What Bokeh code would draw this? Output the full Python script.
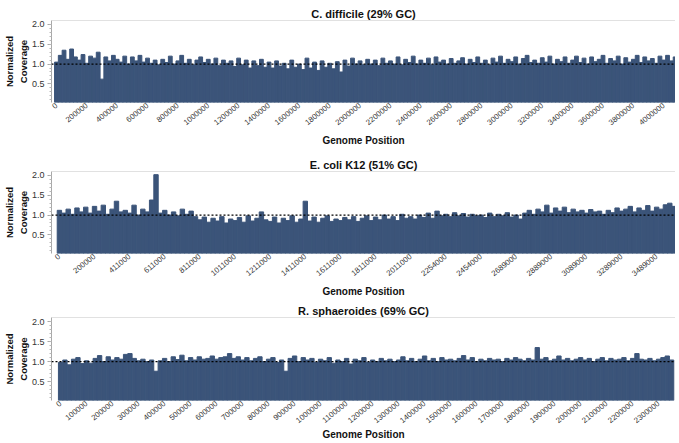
from bokeh.plotting import figure
from bokeh.models import FixedTicker, Span, ColumnDataSource, PrintfTickFormatter
from bokeh.layouts import column
from bokeh.embed import file_html
from bokeh.resources import INLINE

titles = ["C. difficile (29% GC)", "E. coli K12 (51% GC)", "R. sphaeroides (69% GC)"]

cdiff_labels = ["0", "200000", "400000", "600000", "800000", "1000000", "1200000",
                "1400000", "1600000", "1800000", "2000000", "2200000", "2400000",
                "2600000", "2800000", "3000000", "3200000", "3400000", "3600000",
                "3800000", "4000000"]
ecoli_labels = ["0", "200000", "411000", "611000", "811000", "1011000", "1211000",
                "1411000", "1611000", "1811000", "2011000", "2254000", "2454000",
                "2689000", "2889000", "3089000", "3289000", "3489000"]
rsph_labels = ["0", "100000", "200000", "300000", "400000", "500000", "600000",
               "700000", "800000", "900000", "1000000", "1100000", "1200000",
               "1300000", "1400000", "1500000", "1600000", "1700000", "1800000",
               "1900000", "2000000", "2100000", "2200000", "2300000"]

cdiff_cov = [
    1.05, 1.22, 1.35, 1.12, 1.38, 1.18, 1.10, 1.24,
    1.02, 1.20, 1.15, 1.30, 0.62, 1.18, 1.08, 1.22,
    1.12, 1.05, 1.20, 1.00, 1.18, 1.08, 1.22, 1.05,
    1.15, 1.02, 1.10, 0.98, 1.12, 1.04, 1.20, 1.00,
    1.08, 1.22, 1.02, 1.12, 0.98, 1.10, 1.18, 1.04,
    1.12, 1.00, 1.15, 0.96, 1.10, 1.02, 1.08, 0.94,
    1.15, 0.98, 1.10, 0.90, 1.08, 0.96, 1.12, 0.92,
    1.05, 0.90, 1.08, 0.95, 1.02, 0.88, 1.10, 0.92,
    1.00, 0.86, 1.15, 0.90, 1.05, 0.84, 1.08, 0.92,
    1.02, 0.88, 1.06, 0.80, 1.10, 0.95, 1.15, 1.00,
    1.08, 0.98, 1.12, 1.00, 1.10, 0.96, 1.15, 1.02,
    1.08, 1.00, 1.18, 0.98, 1.12, 1.04, 1.20, 1.00,
    1.10, 1.02, 1.15, 0.98, 1.18, 1.05, 1.10, 1.00,
    1.14, 1.02, 1.08, 1.16, 1.00, 1.12, 1.04, 1.18,
    1.02, 1.10, 0.98, 1.15, 1.05, 1.20, 1.02, 1.12,
    1.06, 1.18, 1.00, 1.14, 1.22, 1.04, 1.10, 1.02,
    1.16, 1.05, 1.20, 1.00, 1.12, 1.06, 1.18, 1.02,
    1.10, 1.20, 1.04, 1.15, 1.00, 1.18, 1.06, 1.12,
    1.22, 1.02, 1.14, 1.08, 1.20, 1.00, 1.16, 1.05,
    1.12, 1.22, 1.04, 1.18, 1.08, 1.14, 1.02, 1.20,
    1.10, 1.22, 1.08, 1.18,
]

ecoli_cov = [
    1.12, 1.05, 1.15, 1.02, 1.18, 1.08, 1.20, 1.05,
    1.22, 1.10, 1.25, 1.02, 1.15, 1.35, 1.08, 1.12,
    1.05, 1.25, 1.00, 1.15, 1.08, 1.38, 2.02, 1.05,
    1.12, 1.00, 1.08, 0.98, 1.15, 1.02, 1.10, 0.96,
    0.88, 0.95, 0.82, 0.92, 0.85, 0.96, 0.80, 0.90,
    0.86, 0.94, 0.82, 0.98, 0.85, 0.92, 1.08, 0.88,
    0.84, 0.95, 0.80, 0.92, 0.86, 0.98, 0.82, 0.90,
    1.35, 0.85, 0.95, 0.82, 0.92, 0.98, 0.84, 0.90,
    0.86, 0.94, 0.88, 0.96, 0.84, 0.92, 0.98, 0.86,
    0.95, 0.88, 1.00, 0.90, 0.96, 0.86, 1.02, 0.92,
    0.96, 0.90, 1.00, 0.94, 1.05, 0.92, 1.10, 0.98,
    1.02, 0.96, 1.06, 0.98, 1.04, 0.95, 1.02, 0.98,
    1.00, 0.94, 1.05, 0.96, 1.02, 0.98, 1.06, 0.95,
    1.00, 0.90, 1.05, 1.12, 1.02, 1.15, 1.08, 1.25,
    1.05, 1.18, 1.10, 1.20, 1.06, 1.15, 1.08, 1.12,
    1.05, 1.14, 1.08, 1.10, 1.02, 1.12, 1.06, 1.18,
    1.10, 1.15, 1.22, 1.08, 1.18, 1.12, 1.24, 1.10,
    1.20, 1.15, 1.26, 1.30, 1.22,
]

rsph_cov = [
    0.98, 1.04, 0.92, 1.06, 1.10, 0.95,
    1.02, 0.96, 1.08, 1.15, 1.00, 1.12,
    1.04, 1.10, 1.06, 1.18, 1.20, 1.08,
    1.02, 1.06, 1.00, 1.04, 0.76, 1.02,
    1.08, 1.00, 1.12, 1.05, 1.16, 1.02,
    1.10, 1.04, 1.12, 1.06, 1.08, 1.14,
    1.06, 1.10, 1.12, 1.20, 1.08, 1.12,
    1.04, 1.10, 1.02, 1.08, 1.12, 1.00,
    1.06, 1.10, 0.98, 1.04, 0.76, 1.08,
    1.14, 1.00, 1.10, 1.04, 1.08, 0.98,
    1.06, 1.02, 1.10, 0.96, 1.04, 1.00,
    1.08, 0.94, 1.06, 1.02, 1.10, 0.98,
    1.04, 1.00, 1.08, 1.02, 1.06, 1.00,
    1.04, 1.12, 1.02, 1.08, 1.00, 1.06,
    1.14, 1.02, 1.08, 1.00, 1.10, 1.04,
    1.06, 1.02, 1.08, 1.15, 1.04, 1.10,
    1.00, 1.06, 1.02, 1.08, 1.04, 1.06,
    1.00, 1.08, 1.04, 1.10, 1.06, 1.02,
    1.08, 1.04, 1.35, 1.06, 1.10, 1.02,
    1.06, 1.14, 1.04, 1.08, 1.02, 1.06,
    1.10, 1.04, 1.08, 1.00, 1.06, 1.10,
    1.02, 1.08, 1.04, 1.06, 1.10, 1.02,
    1.08, 1.20, 1.06, 1.04, 1.08, 1.02,
    1.06, 1.10, 1.14, 1.04,
]

BAR = "#3b5479"
FONT = "Liberation Sans"

def make_panel(title, cov, labels, bins_per_tick, x_start, x_end,
               height, top_border, bottom_border, gp_standoff):
    src = ColumnDataSource(dict(x=list(range(len(cov))), cov=cov))
    p = figure(width=675, height=height, output_backend="svg", toolbar_location=None,
               x_range=(x_start, x_end), y_range=(0.03, 2.1),
               min_border_left=49, min_border_right=0,
               min_border_top=top_border, min_border_bottom=bottom_border)
    p.vbar(x="x", top="cov", bottom=0, width=1.0, source=src,
           fill_color=BAR, line_color=BAR, line_width=1.0)
    p.add_layout(Span(location=1.0, dimension="width", line_color="black",
                      line_dash="2 2", line_width=1.3))
    p.add_layout(Span(location=2.1, dimension="width", line_color="#c4c4c4",
                      line_width=1.2))
    p.outline_line_color = None
    p.grid.visible = False
    p.background_fill_color = "white"
    p.border_fill_color = "white"

    p.title.text = title
    p.title.align = "center"
    p.title.text_font = FONT
    p.title.text_font_size = "11px"
    p.title.text_font_style = "bold"
    p.title.text_color = "#111111"
    p.title.offset = 0
    p.title.standoff = 2

    ticks = [i * bins_per_tick for i in range(len(labels))]
    xa = p.xaxis[0]
    xa.ticker = FixedTicker(ticks=ticks)
    xa.major_label_overrides = {t: l for t, l in zip(ticks, labels)}
    xa.major_label_orientation = 0.68
    xa.major_label_text_font = FONT
    xa.major_label_text_font_size = "7.8px"
    xa.major_label_text_line_height = 1.0
    xa.major_label_text_color = "#333333"
    xa.major_label_standoff = 2
    xa.axis_line_color = None
    xa.major_tick_line_color = None
    xa.minor_tick_line_color = None
    xa.major_tick_out = 0
    xa.major_tick_in = 0
    xa.minor_tick_out = 0
    xa.minor_tick_in = 0
    xa.axis_label = "Genome Position"
    xa.axis_label_text_font = FONT
    xa.axis_label_text_font_size = "10px"
    xa.axis_label_text_line_height = 1.0
    xa.axis_label_text_font_style = "bold"
    xa.axis_label_text_color = "#111111"
    xa.axis_label_standoff = gp_standoff

    ya = p.yaxis[0]
    ya.ticker = FixedTicker(ticks=[0.5, 1.0, 1.5, 2.0],
                            minor_ticks=[round(0.1 * k, 1) for k in range(1, 21)])
    ya.formatter = PrintfTickFormatter(format="%.1f")
    ya.major_label_text_font = FONT
    ya.major_label_text_font_size = "9px"
    ya.major_label_text_color = "#333333"
    ya.axis_line_color = "#a8a8a8"
    ya.major_tick_line_color = "#a8a8a8"
    ya.minor_tick_line_color = "#b8b8b8"
    ya.major_tick_out = 4
    ya.major_tick_in = 0
    ya.minor_tick_out = 2
    ya.minor_tick_in = 0
    ya.major_label_standoff = 3
    ya.axis_label = "Normalized\nCoverage"
    ya.axis_label_text_font = FONT
    ya.axis_label_text_font_size = "9.5px"
    ya.axis_label_text_line_height = 1.3
    ya.axis_label_text_font_style = "bold"
    ya.axis_label_text_color = "#111111"
    ya.axis_label_standoff = 0
    return p

p1 = make_panel(titles[0], cdiff_cov, cdiff_labels, 8, -1.3, 163.1, 149, 20, 44, 5)
p2 = make_panel(titles[1], ecoli_cov, ecoli_labels, 8, -1.8, 140.3, 151, 22, 44, 5)
p3 = make_panel(titles[2], rsph_cov, rsph_labels, 6, -2.1, 141.9, 143, 17, 40, 1)

layout = column(p1, p2, p3, spacing=0)
open("out.html", "w").write(file_html(layout, INLINE))
